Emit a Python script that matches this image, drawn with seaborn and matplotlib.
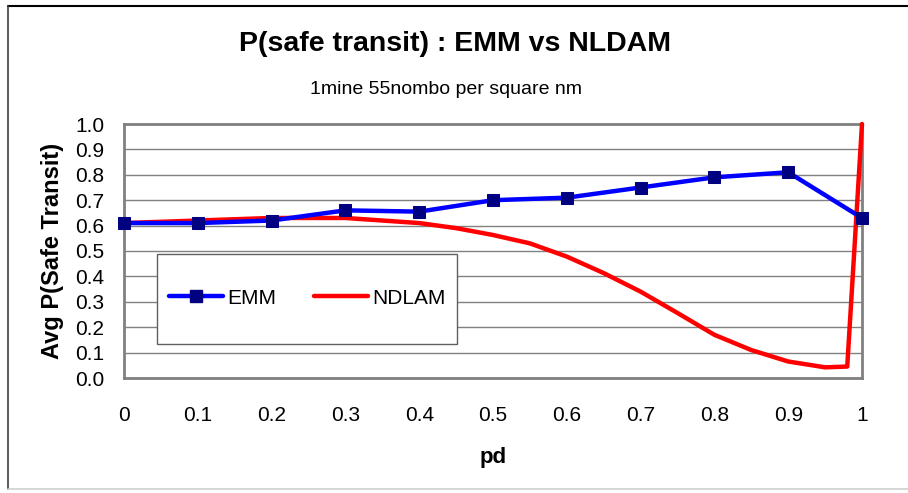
import numpy as np
import pandas as pd
import seaborn as sns
import matplotlib.pyplot as plt
from matplotlib.patches import Rectangle
from matplotlib.lines import Line2D

# values
pd_emm = [0, 0.1, 0.2, 0.3, 0.4, 0.5, 0.6, 0.7, 0.8, 0.9, 1.0]
emm = [0.61, 0.61, 0.62, 0.66, 0.655, 0.70, 0.71, 0.75, 0.79, 0.81, 0.63]

pd_ndlam = [0, 0.1, 0.2, 0.3, 0.4, 0.45, 0.5, 0.55, 0.6, 0.65, 0.7, 0.75, 0.8, 0.85, 0.9, 0.95, 0.98, 1.0]
ndlam = [0.61, 0.62, 0.63, 0.63, 0.61, 0.59, 0.563, 0.53, 0.478, 0.413, 0.34, 0.256, 0.17, 0.11, 0.065, 0.042, 0.045, 1.0]

x_ticks = [0, 0.1, 0.2, 0.3, 0.4, 0.5, 0.6, 0.7, 0.8, 0.9, 1.0]
x_labels = ["0", "0.1", "0.2", "0.3", "0.4", "0.5", "0.6", "0.7", "0.8", "0.9", "1"]
y_ticks = [0, 0.1, 0.2, 0.3, 0.4, 0.5, 0.6, 0.7, 0.8, 0.9, 1.0]
y_labels = ["%.1f" % v for v in y_ticks]

sns.set_style("white")
plt.rcParams['font.family'] = ['Liberation Sans', 'DejaVu Sans']
plt.rcParams['text.color'] = 'black'
plt.rcParams['axes.labelcolor'] = 'black'
plt.rcParams['xtick.color'] = 'black'
plt.rcParams['ytick.color'] = 'black'

fig = plt.figure(figsize=(9.08, 4.93), dpi=100)
ax = fig.add_axes([124/908, 115/493, 738/908, 254/493])

df_emm = pd.DataFrame({"pd": pd_emm, "val": emm})
df_nd = pd.DataFrame({"pd": pd_ndlam, "val": ndlam})

sns.lineplot(data=df_nd, x="pd", y="val", ax=ax, color="#ff0000", linewidth=3.2,
             zorder=3, clip_on=False)
sns.lineplot(data=df_emm, x="pd", y="val", ax=ax, color="#0000ff", linewidth=3.2,
             marker="s", markersize=9, markerfacecolor="#000080", markeredgecolor="#000080",
             zorder=4, clip_on=False)

ax.set_xlim(0, 1)
ax.set_ylim(0, 1)
ax.set_xticks(x_ticks)
ax.set_xticklabels(x_labels, fontsize=15)
ax.set_yticks(y_ticks)
ax.set_yticklabels(y_labels, fontsize=15)
ax.tick_params(axis="x", direction="out", length=5, width=1, color="#808080", labelcolor="black", pad=15)
ax.tick_params(axis="y", direction="out", length=6, width=1, color="#808080", labelcolor="black", pad=8)
ax.grid(axis="y", color="#808080", linewidth=1)
ax.grid(axis="x", visible=False)
ax.set_axisbelow(True)
for s in ax.spines.values():
    s.set_color("#808080")
    s.set_linewidth(2)

ax.set_xlabel("pd", fontsize=16, fontweight="bold", labelpad=16)
ax.set_ylabel("Avg P(Safe Transit)", fontsize=17, fontweight="bold", labelpad=8)

# legend box
ax.add_patch(Rectangle((33/738, 34/254), 300/738, 90/254, transform=ax.transAxes,
                       facecolor="white", edgecolor="#606060", linewidth=1, zorder=2.5))
handles = [Line2D([], [], color="#0000ff", lw=3.2, marker="s", markersize=9,
                  markerfacecolor="#000080", markeredgecolor="#000080"),
           Line2D([], [], color="#ff0000", lw=3.2)]
leg = ax.legend(handles, ["EMM", "NDLAM"], ncol=2, frameon=False, fontsize=15,
                loc="center", bbox_to_anchor=(183/738, 80/254), bbox_transform=ax.transAxes,
                handlelength=2.6, handletextpad=0.2, columnspacing=1.8)
for t in leg.get_texts():
    t.set_color("black")

fig.text(455/908, 1 - 44/493, "P(safe transit) : EMM vs NLDAM", ha="center", va="center",
         fontsize=20.5, fontweight="bold", color="black")
fig.text(446/908, 1 - 89/493, "1mine 55nombo per square nm", ha="center", va="center",
         fontsize=14, color="black")

# outer chart frame
fig.add_artist(Line2D([8/908, 1], [1 - 6/493, 1 - 6/493], transform=fig.transFigure, color="black", lw=1.5))
fig.add_artist(Line2D([8/908, 8/908], [1 - 6/493, 1 - 489/493], transform=fig.transFigure, color="#404040", lw=1.2))
fig.add_artist(Line2D([8/908, 1], [1 - 489/493, 1 - 489/493], transform=fig.transFigure, color="#d0d0d0", lw=1.2))

fig.savefig("out.png", dpi=100)
